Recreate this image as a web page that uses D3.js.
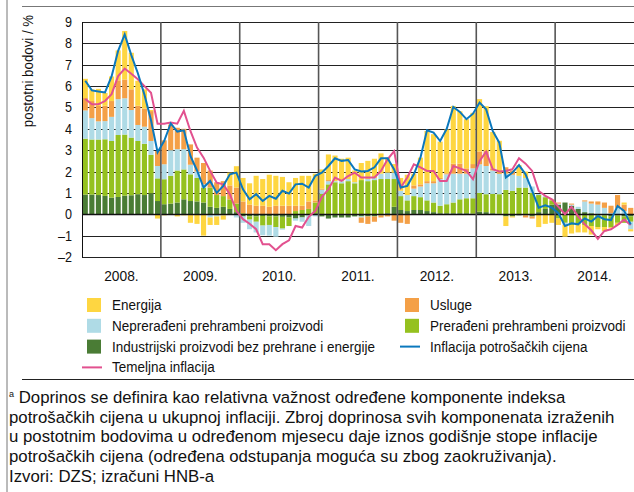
<!DOCTYPE html>
<html>
<head>
<meta charset="utf-8">
<script src="https://cdn.jsdelivr.net/npm/d3@7"></script>
<style>
  body { margin: 0; background: #fff; }
  svg text { font-family: "Liberation Sans", Arial, sans-serif; fill: #111; }
</style>
</head>
<body>
<div id="chart"></div>
<script>
// categories: monthly, 2008 - 2014
const years = ["2008.", "2009.", "2010.", "2011.", "2012.", "2013.", "2014."];
const monthNames = ["I", "II", "III", "IV", "V", "VI", "VII", "VIII", "IX", "X", "XI", "XII"];
const months = years.flatMap(y => monthNames.map(m => m + "/" + y));

const yTicks = [-2, -1, 0, 1, 2, 3, 4, 5, 6, 7, 8, 9];

// contributions (postotni bodovi)
const industrijski = [
  .92, .92, .9, .86, .78, .81, .87, .89, .94, .9, .98, .62,
  .47, .5, .55, .7, .62, .6, .55, .35, .3, .35, .25, .1,
  -.1, -.1, -.1, -.08, -.1, -.1, -.12, -.15, -.2, -.15, -.05, .05,
  -.1, -.2, -.15, -.15, -.15, -.1, -.1, -.1, -.1, -.05, .05, .35,
  .2, .15, .2, .2, .15, .1, .05, .05, .05, .05, .05, .03,
  .12, .1, .05, .02, -.1, -.1, -.05, -.05, -.1, .1, .25, .45,
  .45, .55, .4, .25, .1, .05, 0, -.05, -.1, -.05, -.1, -.1
];
const preradeni = [
  2.62, 2.58, 2.6, 2.65, 2.65, 2.9, 2.86, 2.7, 2.49, 2.4, 1.8, 1.06,
  1.17, 1.3, 1.5, 1.4, 1.25, 1.1, .7, .9, .6, .5, .45, .4,
  .05, -.15, -.25, -.45, -.4, -.5, -.55, -.4, .15, .2, .25, .5,
  .95, 1.4, 1.5, 1.45, 1.55, 1.45, 1.6, 1.55, 1.6, 1.65, 1.6, 1.3,
  .65, .5, .65, .6, .5, .45, .35, .42, .5, .65, .7, .72,
  .88, .84, .9, .92, 1.14, 1.1, 1.25, 1.25, 1.0, .8, .55, .2,
  -.2, -.4, -.5, -.45, -.5, -.55, -.6, -.55, -.5, -.35, -.3, -.25
];
const nepreradeni = [
  1.32, 1.0, .85, .85, 1.13, 1.68, 1.7, 1.29, .75, .8, .65, .58,
  .7, 1.2, 1.0, .95, .45, .3, .15, -.15, -.1, -.05, 0, -.15,
  -.3, -.45, -.5, -.45, -.5, -.45, -.05, 0, -.1, -.2, -.5, -.1,
  .2, .15, .05, .1, .1, .05, -.05, .1, .1, .25, .3, .3,
  .25, .25, .35, .5, .8, .9, 1.25, 1.4, 1.35, 1.2, 1.15, 1.4,
  1.34, 1.32, 1.1, .95, .76, .75, .55, .45, .3, .05, .05, 0,
  .05, -.1, .05, .1, .5, .45, .45, .3, .05, .3, .15, -.35
];
const usluge = [
  .58, .8, .72, .72, .74, .88, .88, .97, .9, .85, 1.4, .7,
  1.12, 1.2, 1.0, .95, .95, .65, 1.0, .8, .6, .7, .65, .75,
  .55, .45, .4, .4, .35, .4, .4, .4, .25, .2, .35, .1,
  .05, .05, 0, 0, 0, 0, -.25, -.35, -.25, -.1, -.1, -.3,
  -.4, -.45, .15, .1, .1, .1, .05, .05, .47, .47, .25, .2,
  .6, .7, .1, .05, .3, .2, 0, -.1, -.1, 0, 0, .05,
  .05, 0, .05, 0, .05, .1, .15, .25, .35, .6, .3, .3
];
const energija = [
  .9, .55, .8, .6, 1.15, 1.4, 2.27, 1.71, 1.17, .9, .05, -.2,
  -.05, 0, -.1, -.05, -.4, -.45, -1.0, -.35, -.4, -.2, .6, 1.0,
  1.1, 1.0, 1.4, 1.25, 1.5, 1.4, 1.35, 1.1, 1.3, 1.4, 1.2, 1.25,
  .9, 1.2, 1.2, 1.05, 1.0, .55, .8, .85, .9, .95, .7, .4,
  .6, .95, .55, 1.25, 2.35, 2.2, 1.7, 2.05, 2.7, 2.45, 2.3, 2.4,
  2.45, 2.1, 1.7, 1.5, -.45, -.05, .5, .3, 0, -.6, -.45, -.4,
  -.3, -.55, -.4, -.4, -.35, -.4, -.1, -.2, -.05, -.1, .1, -.1
];
const inflacija = [
  6.25, 5.8, 5.75, 5.7, 6.45, 7.65, 8.42, 7.45, 6.6, 5.6, 4.4, 2.9,
  3.43, 4.25, 3.87, 3.93, 2.73, 2.05, 1.25, 1.56, 1.0, 1.33, 1.87, 1.95,
  1.17, 0.7, 0.94, 0.62, 0.86, 0.73, 1.1, 0.97, 1.4, 1.43, 1.25, 1.8,
  1.95, 2.26, 2.62, 2.5, 2.54, 2.1, 2.0, 2.03, 2.2, 2.62, 2.62, 2.1,
  1.25, 1.33, 1.87, 2.65, 3.93, 3.82, 3.43, 4.0, 5.02, 4.79, 4.45, 4.71,
  5.23, 4.91, 3.9, 3.35, 1.72, 1.95, 2.3, 1.87, 1.1, 0.31, 0.42, 0.31,
  0.05, -0.55, -0.42, -0.47, -0.19, -0.34, -0.08, -0.23, -0.27, 0.39, 0.16, -0.47
];
const temeljna = [
  5.4, 5.15, 5.15, 5.3, 5.62, 6.47, 6.82, 6.58, 6.32, 6.0, 5.69, 4.24,
  4.24, 4.3, 4.24, 4.84, 3.9, 3.12, 2.65, 2.03, 1.48, 1.4, 0.94, 0.16,
  -0.23, -0.44, -0.7, -1.4, -1.4, -1.68, -1.4, -1.22, -0.55, -0.62, -0.12, 0.16,
  0.81, 1.17, 1.72, 1.56, 1.79, 1.95, 1.72, 1.72, 1.72, 2.03, 2.57, 2.96,
  1.25, 1.72, 2.34, 2.2, 2.03, 2.03, 1.56, 1.56, 2.26, 2.15, 2.03, 1.64,
  2.5, 2.93, 2.11, 2.0, 2.03, 2.11, 2.62, 2.37, 2.03, 1.09, 0.86, 0.7,
  0.35, 0.0, 0.35, -0.1, -0.47, -0.75, -1.15, -0.78, -0.7, -0.5, -0.25, -0.5
];

const keys = ["ind", "pre", "nep", "usl", "ene"];
const color = d3.scaleOrdinal()
  .domain(keys)
  .range(["#4a7c35", "#95c11f", "#afdbe6", "#f4a047", "#fed641"]);

const table = months.map((m, i) => ({
  month: m,
  ind: industrijski[i], pre: preradeni[i], nep: nepreradeni[i],
  usl: usluge[i], ene: energija[i]
}));

const W = 634, H = 492;
const plot = {left: 82, right: 634, top: 22, bottom: 257};

const svg = d3.select("#chart").append("svg")
  .attr("width", W).attr("height", H);

// frame
svg.append("line").attr("x1", 7).attr("x2", 7).attr("y1", 0).attr("y2", H)
  .attr("stroke", "#777").attr("stroke-width", 1);
svg.append("line").attr("x1", 22).attr("x2", W).attr("y1", 6.5).attr("y2", 6.5)
  .attr("stroke", "#777").attr("stroke-width", 1);

const x = d3.scaleBand()
  .domain(months)
  .range([plot.left, plot.right])
  .paddingInner(0.22)
  .paddingOuter(0.11);

const y = d3.scaleLinear()
  .domain([-2, 9])
  .range([plot.bottom, plot.top]);

// horizontal grid
svg.append("g")
  .selectAll("line")
  .data(yTicks)
  .join("line")
  .attr("x1", plot.left).attr("x2", plot.right)
  .attr("y1", d => Math.round(y(d)) + 0.5).attr("y2", d => Math.round(y(d)) + 0.5)
  .attr("stroke", "#222").attr("stroke-width", 1);

const stackedData = d3.stack()
  .keys(keys)
  .offset(d3.stackOffsetDiverging)(table);

svg.append("g")
  .selectAll("g")
  .data(stackedData)
  .join("g")
  .attr("fill", d => color(d.key))
  .selectAll("rect")
  .data(d => d)
  .join("rect")
  .attr("x", d => x(d.data.month))
  .attr("y", d => y(Math.max(d[0], d[1])))
  .attr("height", d => Math.abs(y(d[0]) - y(d[1])))
  .attr("width", x.bandwidth());

// zero line on top
svg.append("line")
  .attr("x1", plot.left).attr("x2", plot.right)
  .attr("y1", Math.round(y(0)) + 0.5).attr("y2", Math.round(y(0)) + 0.5)
  .attr("stroke", "#111").attr("stroke-width", 1.3);

// year separators
const yearStarts = years.map((yr, i) => months[i * 12]).slice(1);
svg.append("g")
  .selectAll("line")
  .data(yearStarts)
  .join("line")
  .attr("x1", d => x(d) - x.step() * x.paddingInner() / 2)
  .attr("x2", d => x(d) - x.step() * x.paddingInner() / 2)
  .attr("y1", plot.top).attr("y2", plot.bottom)
  .attr("stroke", "#555").attr("stroke-width", 1.6);

// plot frame left
svg.append("line").attr("x1", plot.left + 0.5).attr("x2", plot.left + 0.5)
  .attr("y1", plot.top).attr("y2", plot.bottom + 0.5).attr("stroke", "#111");

const lineGen = d3.line()
  .x((d, i) => x(months[i]) + x.bandwidth() / 2)
  .y(d => y(d));

svg.append("path")
  .datum(temeljna)
  .attr("fill", "none")
  .attr("stroke", "#e2518f")
  .attr("stroke-width", 2)
  .attr("d", lineGen);

svg.append("path")
  .datum(inflacija)
  .attr("fill", "none")
  .attr("stroke", "#0b78bd")
  .attr("stroke-width", 2)
  .attr("d", lineGen);

// y axis labels
const TX = 0.9;
const yAxis = svg.append("g")
  .attr("transform", `translate(${plot.left},0)`)
  .call(d3.axisLeft(y).tickValues(yTicks).tickSize(0).tickPadding(10)
    .tickFormat(d => d < 0 ? "\u2013" + Math.abs(d) : d));
yAxis.select(".domain").remove();
yAxis.selectAll("text")
  .attr("font-size", 14)
  .attr("x", -10 / TX)
  .attr("transform", `scale(${TX},1)`);

svg.append("text")
  .attr("transform", "translate(33,71) rotate(-90) scale(0.95,1)")
  .attr("text-anchor", "middle")
  .attr("font-size", 14)
  .text("postotni bodovi / %");

// year labels
svg.append("g")
  .selectAll("text")
  .data(years)
  .join("text")
  .attr("transform", (d, i) => {
    const cx = (x(months[i * 12]) + x(months[i * 12 + 11]) + x.bandwidth()) / 2;
    return `translate(${cx},281) scale(0.95,1)`;
  })
  .attr("text-anchor", "middle")
  .attr("font-size", 14.5)
  .text(d => d);

// legend
const legendItems = [
  {label: "Energija", fill: color("ene"), col: 0, row: 0},
  {label: "Usluge", fill: color("usl"), col: 1, row: 0},
  {label: "Neprerađeni prehrambeni proizvodi", fill: color("nep"), col: 0, row: 1},
  {label: "Prerađeni prehrambeni proizvodi", fill: color("pre"), col: 1, row: 1},
  {label: "Industrijski proizvodi bez prehrane i energije", fill: color("ind"), col: 0, row: 2},
  {label: "Inflacija potrošačkih cijena", line: "#0b78bd", col: 1, row: 2},
  {label: "Temeljna inflacija", line: "#e2518f", col: 0, row: 3}
];
const colX = [87, 405], rowY0 = 305, rowStep = 20.8;
const leg = svg.append("g").selectAll("g")
  .data(legendItems)
  .join("g")
  .attr("transform", d => `translate(${colX[d.col]},${rowY0 + d.row * rowStep})`);
leg.filter(d => d.fill).append("rect")
  .attr("x", 0).attr("y", -7).attr("width", 14).attr("height", 14)
  .attr("fill", d => d.fill);
leg.filter(d => d.line).append("line")
  .attr("x1", -5).attr("x2", 15).attr("y1", 0).attr("y2", 0)
  .attr("stroke", d => d.line).attr("stroke-width", 2);
leg.append("text")
  .attr("transform", "translate(25,5) scale(0.93,1)")
  .attr("font-size", 14.5)
  .text(d => d.label);

// note
svg.append("line").attr("x1", 22).attr("x2", W).attr("y1", 379.5).attr("y2", 379.5)
  .attr("stroke", "#222").attr("stroke-width", 1);

const noteLines = [
  "Doprinos se definira kao relativna važnost određene komponente indeksa",
  "potrošačkih cijena u ukupnoj inflaciji. Zbroj doprinosa svih komponenata izraženih",
  "u postotnim bodovima u određenom mjesecu daje iznos godišnje stope inflacije",
  "potrošačkih cijena (određena odstupanja moguća su zbog zaokruživanja).",
  "Izvori: DZS; izračuni HNB-a"
];
const notes = svg.append("g").attr("font-size", 16.8);
notes.selectAll("text")
  .data(noteLines)
  .join("text")
  .attr("x", 9)
  .attr("y", (d, i) => 403 + i * 19.6 + (i === 4 ? 1 : 0))
  .each(function(d, i) {
    const t = d3.select(this);
    if (i === 0) {
      t.append("tspan").attr("font-size", 9).attr("dy", -6).text("a");
      t.append("tspan").attr("dy", 6).text(" " + d);
    } else {
      t.text(d);
    }
  });
</script>
</body>
</html>
